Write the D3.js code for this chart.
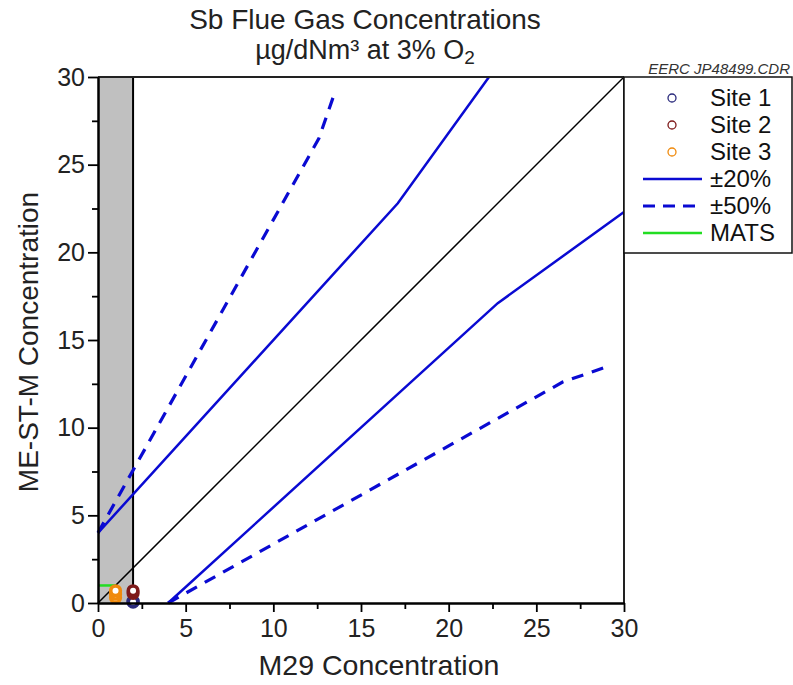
<!DOCTYPE html>
<html>
<head>
<meta charset="utf-8">
<script src="https://cdn.jsdelivr.net/npm/d3@7"></script>
<style>
  html, body { margin: 0; padding: 0; background: #fff; }
  svg { display: block; font-family: "Liberation Sans", Arial, sans-serif; }
</style>
</head>
<body>
<svg id="chart" width="793" height="685"></svg>
<script>
// ---- data ----
const xMajorTicks = [0, 5, 10, 15, 20, 25, 30];
const xMinorTicks = [2.5, 7.5, 12.5, 17.5, 22.5, 27.5];
const yMajorTicks = [0, 5, 10, 15, 20, 25, 30];
const yMinorTicks = [2.5, 7.5, 12.5, 17.5, 22.5, 27.5];

const grayBandX = [0, 2];

const oneToOneX = [0, 30];
const oneToOneY = [0, 30];

const pm20UpperX = [0, 17.1, 22.3];
const pm20UpperY = [4, 22.8, 30];
const pm20LowerX = [4, 22.8, 30];
const pm20LowerY = [0, 17.1, 22.3];

const pm50UpperX = [0, 12.6, 13.5];
const pm50UpperY = [4, 26.5, 29.1];
const pm50LowerX = [4, 26.5, 29.1];
const pm50LowerY = [0, 12.6, 13.5];

const matsX = [0, 1];
const matsY = [1, 1];

const site1X = [2, 2];
const site1Y = [0.1, 0.05];
const site2X = [2, 2];
const site2Y = [0.55, 0.7];
const site3X = [1, 1, 1];
const site3Y = [0.3, 0.5, 0.7];

const legendLabels = ["Site 1", "Site 2", "Site 3", "\u00b120%", "\u00b150%", "MATS"];

// ---- drawing ----
const svg = d3.select("#chart");
const x = d3.scaleLinear().domain([0, 30]).range([98, 624]);
const y = d3.scaleLinear().domain([0, 30]).range([603, 77]);

const blue = "#0a0ad2";
const c1 = "#2a2a7c", c2 = "#7e1a1a", c3 = "#f08a0c", green = "#22dd22";

// gray band
svg.append("rect")
  .attr("x", x(grayBandX[0])).attr("y", y(30))
  .attr("width", x(grayBandX[1]) - x(grayBandX[0]))
  .attr("height", y(0) - y(30))
  .attr("fill", "#c0c0c0");
svg.append("line")
  .attr("x1", x(grayBandX[1])).attr("x2", x(grayBandX[1]))
  .attr("y1", y(0)).attr("y2", y(30))
  .attr("stroke", "#000").attr("stroke-width", 2);

const line = d3.line().x(d => x(d[0])).y(d => y(d[1]));
const zip = (a, b) => a.map((v, i) => [v, b[i]]);

// 1:1 line
svg.append("path").attr("d", line(zip(oneToOneX, oneToOneY)))
  .attr("fill", "none").attr("stroke", "#000").attr("stroke-width", 1.5);

// ±20%
[[pm20UpperX, pm20UpperY], [pm20LowerX, pm20LowerY]].forEach(([a, b]) => {
  svg.append("path").attr("d", line(zip(a, b)))
    .attr("fill", "none").attr("stroke", blue).attr("stroke-width", 2.5);
});
// ±50%
[[pm50UpperX, pm50UpperY], [pm50LowerX, pm50LowerY]].forEach(([a, b]) => {
  svg.append("path").attr("d", line(zip(a, b)))
    .attr("fill", "none").attr("stroke", blue).attr("stroke-width", 3.2)
    .attr("stroke-dasharray", "12,9");
});
// MATS
svg.append("path").attr("d", line(zip(matsX, matsY)))
  .attr("fill", "none").attr("stroke", green).attr("stroke-width", 2.5);

// points
[[site1X, site1Y, c1], [site2X, site2Y, c2], [site3X, site3Y, c3]].forEach(([a, b, c]) => {
  svg.append("g").selectAll("circle").data(zip(a, b)).join("circle")
    .attr("cx", d => x(d[0])).attr("cy", d => y(d[1]))
    .attr("r", 4.8).attr("fill", "#fff")
    .attr("stroke", c).attr("stroke-width", 3.6);
});

// frame (top and right)
svg.append("line").attr("x1", x(0)).attr("x2", x(30)).attr("y1", y(30)).attr("y2", y(30))
  .attr("stroke", "#222").attr("stroke-width", 2);
svg.append("line").attr("x1", x(30)).attr("x2", x(30)).attr("y1", y(0)).attr("y2", y(30))
  .attr("stroke", "#222").attr("stroke-width", 2);

// axes
function styleAxis(g) {
  g.select(".domain").attr("stroke", "#000").attr("stroke-width", 2);
  g.selectAll(".tick line").attr("stroke", "#000").attr("stroke-width", 1.8);
  g.selectAll(".tick text").attr("font-size", 25).attr("fill", "#222")
    .attr("font-family", "'Liberation Sans', Arial, sans-serif");
}
const xg = svg.append("g").attr("transform", `translate(0,${y(0)})`)
  .call(d3.axisBottom(x).tickValues(xMajorTicks).tickSize(9).tickPadding(7).tickSizeOuter(0));
styleAxis(xg);
const xg2 = svg.append("g").attr("transform", `translate(0,${y(0)})`)
  .call(d3.axisBottom(x).tickValues(xMinorTicks).tickSize(6).tickFormat("").tickSizeOuter(0));
styleAxis(xg2);
const yg = svg.append("g").attr("transform", `translate(${x(0)},0)`)
  .call(d3.axisLeft(y).tickValues(yMajorTicks).tickSize(10).tickPadding(3).tickSizeOuter(0));
styleAxis(yg);
const yg2 = svg.append("g").attr("transform", `translate(${x(0)},0)`)
  .call(d3.axisLeft(y).tickValues(yMinorTicks).tickSize(6).tickFormat("").tickSizeOuter(0));
styleAxis(yg2);

// titles
svg.append("text").attr("x", 365).attr("y", 29).attr("text-anchor", "middle")
  .attr("font-size", 28).attr("fill", "#222").text("Sb Flue Gas Concentrations");
const t2 = svg.append("text").attr("x", 365).attr("y", 59).attr("text-anchor", "middle")
  .attr("font-size", 27).attr("fill", "#222");
t2.append("tspan").text("\u00b5g/dNm\u00b3 at 3% O");
t2.append("tspan").attr("font-size", 19).attr("dy", 5).text("2");

svg.append("text").attr("x", 379).attr("y", 675).attr("text-anchor", "middle")
  .attr("font-size", 28.5).attr("fill", "#222").text("M29 Concentration");
svg.append("text").attr("transform", "translate(38,342) rotate(-90)").attr("text-anchor", "middle")
  .attr("font-size", 28).attr("fill", "#222").text("ME-ST-M Concentration");

svg.append("text").attr("x", 790).attr("y", 74).attr("text-anchor", "end")
  .attr("font-size", 15).attr("font-style", "italic").attr("fill", "#333").text("EERC JP48499.CDR");

// legend
const lg = svg.append("g");
lg.append("rect").attr("x", 624).attr("y", 77).attr("width", 168).attr("height", 176)
  .attr("fill", "#fff").attr("stroke", "#111").attr("stroke-width", 1.5);
const rowY = d3.scalePoint().domain(legendLabels).range([98, 233]);
const siteColors = [c1, c2, c3];
legendLabels.forEach((lab, i) => {
  const yy = rowY(lab);
  if (i < 3) {
    lg.append("circle").attr("cx", 672).attr("cy", yy).attr("r", 4)
      .attr("fill", "#fff").attr("stroke", siteColors[i]).attr("stroke-width", 1.3);
  } else {
    const l = lg.append("line").attr("x1", 643).attr("x2", 702).attr("y1", yy).attr("y2", yy)
      .attr("stroke", i === 5 ? green : blue).attr("stroke-width", 2.5);
    if (i === 4) l.attr("stroke-dasharray", "12,8").attr("stroke-width", 3);
  }
  lg.append("text").attr("x", 710).attr("y", yy + 8).attr("font-size", 24)
    .attr("fill", "#111").text(lab);
});
</script>
</body>
</html>
